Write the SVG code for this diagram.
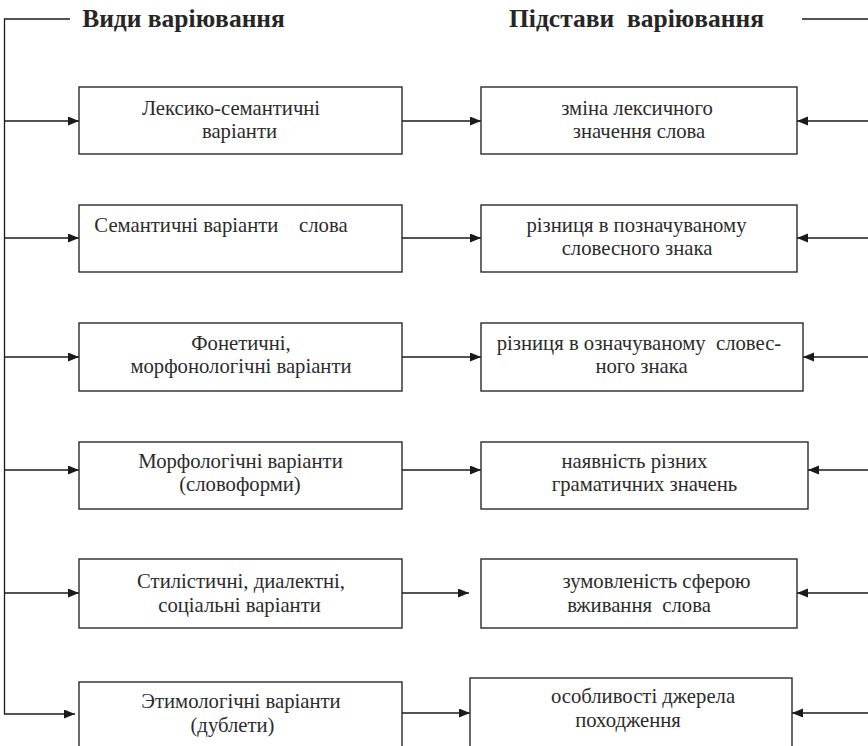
<svg xmlns="http://www.w3.org/2000/svg" width="868" height="746" viewBox="0 0 868 746">
<defs>
<marker id="ah" markerUnits="userSpaceOnUse" markerWidth="12" markerHeight="10" refX="11" refY="4.5" orient="auto">
<path d="M0,0 L11,4.5 L0,9 Z" fill="#1a1a1a"/>
</marker>
<style>
.box{fill:#fff;stroke:#2a2a2a;stroke-width:1.4}
.ln{fill:none;stroke:#1a1a1a;stroke-width:1.3}
.ar{fill:none;stroke:#1a1a1a;stroke-width:1.3;marker-end:url(#ah)}
text{font-size:20.7px;fill:#2b2b2b;text-anchor:middle;white-space:pre}
.t{font-weight:bold;font-size:25.5px;fill:#262626}
</style>
</defs>
<rect width="868" height="746" fill="#fff"/>
<g id="connectors">
<polyline class="ln" points="70,19 4.5,19 4.5,714"/>
<line class="ln" x1="802" y1="19" x2="868" y2="19"/>
<line class="ar" x1="4.5" y1="121" x2="79" y2="121"/>
<line class="ar" x1="4.5" y1="238" x2="79" y2="238"/>
<line class="ar" x1="4.5" y1="357" x2="79" y2="357"/>
<line class="ar" x1="4.5" y1="470" x2="79" y2="470"/>
<line class="ar" x1="4.5" y1="593" x2="79" y2="593"/>
<line class="ar" x1="4" y1="714" x2="75" y2="714"/>
<line class="ar" x1="402" y1="121" x2="481" y2="121"/>
<line class="ar" x1="402" y1="238" x2="481" y2="238"/>
<line class="ar" x1="402" y1="357" x2="481" y2="357"/>
<line class="ar" x1="402" y1="470" x2="481" y2="470"/>
<line class="ar" x1="402" y1="593" x2="469" y2="593"/>
<line class="ar" x1="402" y1="713" x2="470" y2="713"/>
<line class="ar" x1="868" y1="121" x2="797" y2="121"/>
<line class="ar" x1="868" y1="238" x2="797" y2="238"/>
<line class="ar" x1="868" y1="357" x2="803" y2="357"/>
<line class="ar" x1="868" y1="470" x2="808" y2="470"/>
<line class="ar" x1="868" y1="593" x2="797" y2="593"/>
<line class="ar" x1="868" y1="713" x2="792" y2="713"/>
</g>
<g font-family="Liberation Serif, DejaVu Serif, serif">
<g id="title-left"><text class="t" x="183.5" y="27">Види варіювання</text></g>
<g id="title-right"><text class="t" x="636.5" y="27">Підстави  варіювання</text></g>
<g id="L1"><rect class="box" x="79" y="87" width="323" height="67"/>
<text x="231" y="115">Лексико-семантичні</text><text x="239.5" y="138">варіанти</text></g>
<g id="L2"><rect class="box" x="79" y="205" width="323" height="67"/>
<text x="221" y="232">Семантичні варіанти    слова</text></g>
<g id="L3"><rect class="box" x="79" y="323" width="323" height="68"/>
<text x="241" y="350">Фонетичні,</text><text x="241" y="373">морфонологічні варіанти</text></g>
<g id="L4"><rect class="box" x="79" y="442" width="323" height="67"/>
<text x="240.5" y="468">Морфологічні варіанти</text><text x="240" y="491">(словоформи)</text></g>
<g id="L5"><rect class="box" x="79" y="559" width="323" height="69"/>
<text x="241" y="588">Стилістичні, диалектні,</text><text x="239.5" y="612">соціальні варіанти</text></g>
<g id="L6"><rect class="box" x="79" y="682" width="323" height="90"/>
<text x="241" y="708">Этимологічні варіанти</text><text x="232.5" y="732">(дублети)</text></g>
<g id="R1"><rect class="box" x="481" y="87" width="316" height="67"/>
<text x="637" y="115">зміна лексичного</text><text x="639" y="138">значення слова</text></g>
<g id="R2"><rect class="box" x="481" y="205" width="316" height="67"/>
<text x="636.5" y="232">різниця в позначуваному</text><text x="637" y="255">словесного знака</text></g>
<g id="R3"><rect class="box" x="481" y="323" width="322" height="68"/>
<text x="639" y="350">різниця в означуваному  словес-</text><text x="641.5" y="373">ного знака</text></g>
<g id="R4"><rect class="box" x="481" y="442" width="327" height="67"/>
<text x="634.5" y="468">наявність різних</text><text x="644.5" y="491">граматичних значень</text></g>
<g id="R5"><rect class="box" x="481" y="559" width="316" height="69"/>
<text x="656.5" y="588">зумовленість сферою</text><text x="639" y="612">вживання  слова</text></g>
<g id="R6"><rect class="box" x="470" y="678" width="322" height="94"/>
<text x="643" y="703">особливості джерела</text><text x="628" y="727">походження</text></g>
</g>
</svg>
